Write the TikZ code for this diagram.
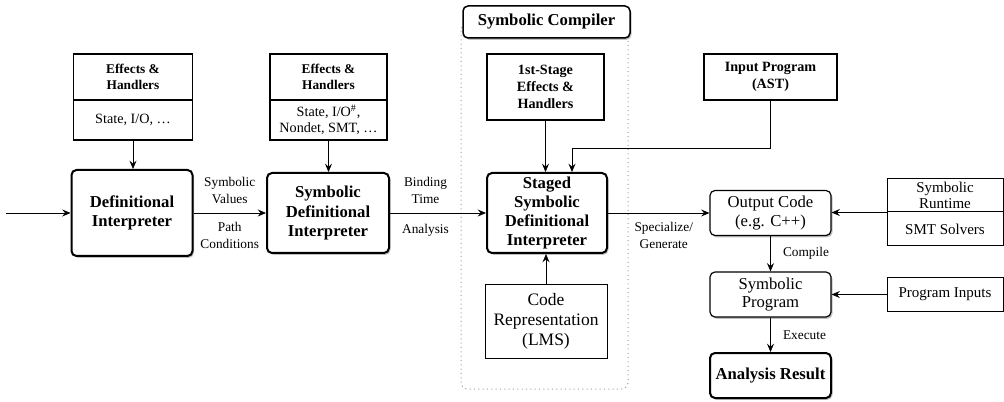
\documentclass[tikz,border=0pt]{standalone}
\usepackage{fontspec}
\setmainfont{Liberation Serif}
\usetikzlibrary{arrows.meta,shadows}

\begin{document}
\begin{tikzpicture}[x=0.6pt, y=-0.6pt,
  >={Stealth[length=5pt,width=4.2pt,inset=1.8pt]},
  interp/.style={draw, line width=1.2pt, rounded corners=3pt, fill=white, align=center, inner sep=0pt,
    font=\bfseries\fontsize{10}{11.5}\selectfont,
    drop shadow={shadow xshift=0.9pt, shadow yshift=-1.1pt, opacity=0.5}},
  outbox/.style={draw, line width=0.7pt, rounded corners=3pt, fill=white, align=center, inner sep=0pt,
    minimum width=121*\px, minimum height=45*\px, font=\fontsize{10}{11}\selectfont,
    drop shadow={shadow xshift=0.9pt, shadow yshift=-1.1pt, opacity=0.5}},
  effhead/.style={draw, line width=1.1pt, align=center, inner sep=0pt, font=\bfseries\fontsize{8}{10}\selectfont},
  effbody/.style={draw, line width=1.1pt, align=center, inner sep=0pt, font=\fontsize{8.5}{10}\selectfont},
  plainbox/.style={draw, line width=0.6pt, align=center, inner sep=0pt, font=\fontsize{10.5}{12}\selectfont},
  sidebox/.style={draw, line width=0.6pt, align=center, inner sep=0pt, minimum width=116*\px,
    font=\fontsize{9}{9.8}\selectfont},
  lbl/.style={align=center, font=\fontsize{8}{10}\selectfont}
]
\def\px{0.6pt} % one pixel of the layout
\useasboundingbox (0,0) rectangle (1004,402);

% Plain and symbolic interpreters
\node[interp, minimum width=121*\px, minimum height=86*\px] (defint) at (132,213) {Definitional\\Interpreter};
\node[effhead, minimum width=119*\px, minimum height=46*\px] (eff1) at (133,77) {Effects \&\\Handlers};
\node[effbody, minimum width=119*\px, minimum height=40*\px] (eff1b) at (133,120) {State, I/O, \dots};

\node[interp, minimum width=122*\px, minimum height=80*\px] (symint) at (328,213) {Symbolic\\Definitional\\Interpreter};
\node[effhead, minimum width=117*\px, minimum height=46*\px] (eff2) at (328.5,77) {Effects \&\\Handlers};
\node[effbody, minimum width=117*\px, minimum height=40*\px] (eff2b) at (328.5,120) {State, I/O\textsuperscript{\#},\\Nondet, SMT, \dots};

% Symbolic compiler
\draw[dotted, gray!80, line width=0.6pt, rounded corners=4pt] (461,24) rectangle (628,389);
\node[interp, line width=0.9pt, minimum width=167*\px, minimum height=32*\px] (compiler) at (546.5,22) {Symbolic Compiler};
\node[effhead, font=\bfseries\fontsize{8.5}{10}\selectfont, minimum width=117*\px, minimum height=66*\px] (stage1) at (545.5,87) {1st-Stage\\Effects \&\\Handlers};
\node[interp, minimum width=120*\px, minimum height=80*\px] (staged) at (547,213) {Staged\\Symbolic\\Definitional\\Interpreter};
\node[plainbox, minimum width=122*\px, minimum height=73*\px] (coderep) at (546,321.5) {Code\\Representation\\(LMS)};

% Output side
\node[effhead, font=\bfseries\fontsize{8.5}{10}\selectfont, minimum width=133*\px, minimum height=46*\px] (input) at (770.5,77) {Input Program\\(AST)};
\node[outbox] (output) at (770.5,213) {Output Code\\(e.g. C++)};
\node[outbox] (symprog) at (770.5,294.5) {Symbolic\\Program};
\node[interp, minimum width=121*\px, minimum height=45*\px] (result) at (770.5,375.5) {Analysis Result};
\node[sidebox, minimum height=33*\px] (runtime) at (945,195.5) {Symbolic\\Runtime};
\node[sidebox, minimum height=34*\px] (smt) at (945,229) {SMT Solvers};
\node[sidebox, minimum height=34*\px] (inputs) at (945,294.5) {Program Inputs};

% Connectors
\coordinate (start) at (6,213);
\coordinate (bend) at (572,148);
\draw[->] (start) -- (start -| defint.west);
\draw[->] (eff1b.south) -- (eff1b.south |- defint.north);
\draw[->] (eff2b.south) -- (eff2b.south |- symint.north);
\draw[->] (defint) -- node[lbl, above=2pt] {Symbolic\\Values} node[lbl, below=2pt] {Path\\Conditions} (symint);
\draw[->] (symint) -- node[lbl, above=2pt, pos=0.37] {Binding\\Time} node[lbl, below=3pt, pos=0.37] {Analysis} (staged);
\draw[->] (stage1.south) -- (stage1.south |- staged.north);
\draw[->] (coderep.north) -- (coderep.north |- staged.south);
\draw[->] (input.south) |- (bend) -- (bend |- staged.north);
\draw[->] (staged) -- node[lbl, below=2pt, pos=0.55] {Specialize/\\Generate} (output);
\draw[->] (runtime.south west) -- (runtime.south west -| output.east);
\draw[->] (output) -- node[lbl, right=4pt] {Compile} (symprog);
\draw[->] (inputs) -- (symprog);
\draw[->] (symprog) -- node[lbl, right=4pt] {Execute} (result);
\end{tikzpicture}
\end{document}
